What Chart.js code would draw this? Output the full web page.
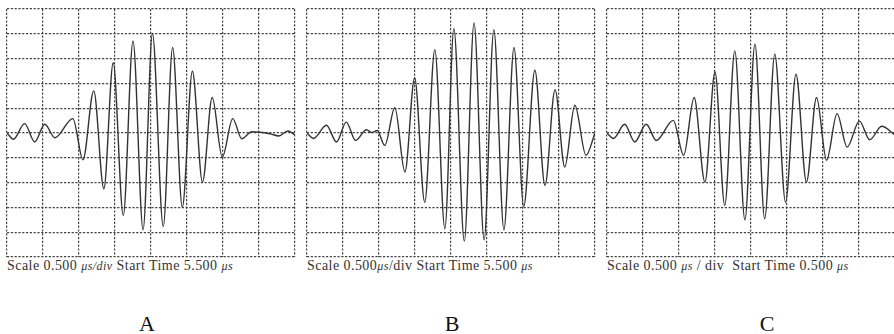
<!DOCTYPE html>
<html>
<head>
<meta charset="utf-8">
<script src="https://cdn.jsdelivr.net/npm/chart.js@4/dist/chart.umd.min.js"></script>
<style>
  html, body { margin: 0; padding: 0; background: #fff; }
  body { width: 894px; height: 334px; position: relative; overflow: hidden; }
  .cv { position: absolute; }
  .cap { position: absolute; font-family: "Liberation Serif", "DejaVu Serif", serif; font-size: 14px; letter-spacing: 0.45px; color: #333; white-space: nowrap; line-height: 16px; }
  .cap i { font-style: italic; font-size: 12px; }
  .lab { position: absolute; font-family: "Liberation Serif", "DejaVu Serif", serif; font-size: 22px; color: #111; transform: translateX(-50%); }
</style>
</head>
<body>
<div class="cv" style="left:6px;top:8px;width:290px;height:250px"><canvas id="cA"></canvas></div>
<div class="cv" style="left:306px;top:8px;width:290px;height:250px"><canvas id="cB"></canvas></div>
<div class="cv" style="left:606px;top:8px;width:290px;height:250px"><canvas id="cC"></canvas></div>

<div class="cap" style="left:7px;top:258px">Scale 0.500 <i>μs/div</i> Start Time 5.500 <i>μs</i></div>
<div class="cap" style="left:307px;top:258px">Scale 0.500<i>μs</i>/div Start Time 5.500 <i>μs</i></div>
<div class="cap" style="left:607px;top:258px">Scale 0.500 <i>μs</i> / div&nbsp; Start Time 0.500 <i>μs</i></div>

<div class="lab" style="left:147px;top:311px">A</div>
<div class="lab" style="left:452px;top:311px">B</div>
<div class="lab" style="left:767px;top:311px">C</div>

<script>
// Horizontal position in divisions (0..8), vertical amplitude in divisions (-5..5)
const xA = [0.0, 0.18, 0.49, 0.77, 1.05, 1.33, 1.83, 2.11, 2.41, 2.69, 2.95, 3.23, 3.50, 3.78, 4.04, 4.34, 4.60, 4.87, 5.15, 5.43, 5.70, 5.98, 6.27, 6.52, 6.80, 7.30, 7.55, 7.80, 8.0];
const yA = [0.0, -0.25, 0.38, -0.36, 0.35, -0.19, 0.58, -1.08, 1.70, -2.25, 2.83, -3.32, 3.71, -3.90, 4.01, -3.77, 3.45, -2.99, 2.49, -1.98, 1.43, -0.97, 0.58, -0.23, 0.05, -0.03, -0.12, 0.08, -0.08];

const xB = [0.0, 0.18, 0.54, 0.82, 1.09, 1.35, 1.65, 1.80, 1.95, 2.16, 2.44, 2.72, 2.99, 3.27, 3.55, 3.83, 4.08, 4.37, 4.64, 4.92, 5.19, 5.47, 5.75, 6.02, 6.33, 6.61, 6.89, 7.16, 7.44, 7.75, 8.0];
const yB = [0.0, -0.22, 0.31, -0.36, 0.44, -0.30, 0.13, 0.02, 0.10, -0.50, 1.02, -1.57, 2.23, -2.79, 3.36, -3.86, 4.21, -4.36, 4.44, -4.31, 4.17, -3.90, 3.45, -2.96, 2.53, -2.11, 1.75, -1.37, 1.12, -0.90, 0.0];

const xC = [0.0, 0.18, 0.49, 0.77, 1.09, 1.37, 1.84, 2.13, 2.42, 2.72, 3.00, 3.27, 3.55, 3.83, 4.11, 4.38, 4.66, 4.96, 5.25, 5.54, 5.82, 6.10, 6.39, 6.67, 7.01, 7.30, 7.63, 8.0];
const yC = [0.0, -0.22, 0.35, -0.36, 0.35, -0.30, 0.51, -0.90, 1.43, -1.98, 2.46, -2.92, 3.31, -3.50, 3.58, -3.46, 3.18, -2.79, 2.37, -1.98, 1.43, -1.10, 0.78, -0.57, 0.48, -0.27, 0.27, -0.09];

function pts(xs, ys) { return xs.map((x, i) => ({ x: x, y: ys[i] })); }

function makeScope(id, xs, ys) {
  const gridOpts = {
    color: '#444444',
    lineWidth: 1.2,
    drawTicks: false
  };
  new Chart(document.getElementById(id), {
    type: 'line',
    data: {
      datasets: [{
        data: pts(xs, ys),
        borderColor: '#333333',
        borderWidth: 1.4,
        pointRadius: 0,
        fill: false,
        cubicInterpolationMode: 'monotone'
      }]
    },
    options: {
      responsive: true,
      maintainAspectRatio: false,
      animation: false,
      events: [],
      layout: { padding: 1, autoPadding: false },
      plugins: { legend: { display: false }, tooltip: { enabled: false } },
      scales: {
        x: {
          type: 'linear', min: 0, max: 8,
          ticks: { display: false, stepSize: 1 },
          grid: gridOpts,
          border: { display: false, dash: [2.2, 1.6] }
        },
        y: {
          type: 'linear', min: -5, max: 5,
          ticks: { display: false, stepSize: 1 },
          grid: gridOpts,
          border: { display: false, dash: [2.2, 1.6] }
        }
      }
    }
  });
}

makeScope('cA', xA, yA);
makeScope('cB', xB, yB);
makeScope('cC', xC, yC);
</script>
</body>
</html>
